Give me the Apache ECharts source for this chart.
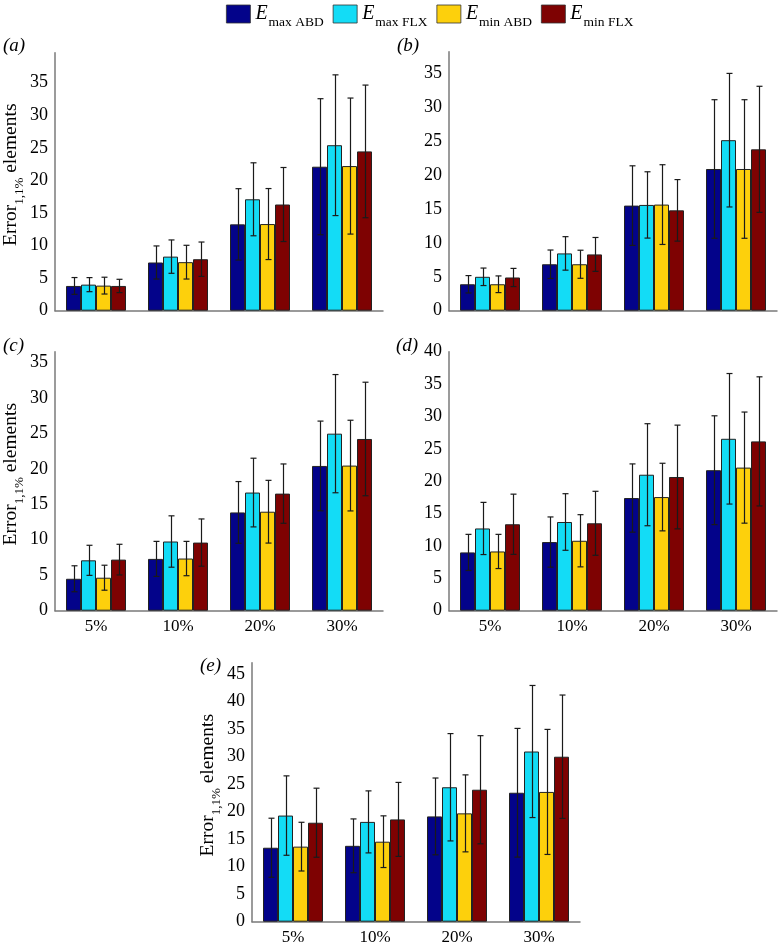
<!DOCTYPE html>
<html><head><meta charset="utf-8">
<script src="https://cdn.jsdelivr.net/npm/echarts@6/dist/echarts.min.js"></script>
<style>html,body{margin:0;padding:0;background:#fff}#c{width:778px;height:946px}</style>
</head><body><div id="c"></div>
<script>
var categories = ['5%', '10%', '20%', '30%'];
var seriesNames = ['Emax ABD', 'Emax FLX', 'Emin ABD', 'Emin FLX'];
var seriesSubs = ['max ABD', 'max FLX', 'min ABD', 'min FLX'];
var panelLetters = ['a', 'b', 'c', 'd', 'e'];
var yTickMax = [35, 35, 35, 40, 45];

// panel (a)
var a_maxABD = [3.8, 7.4, 13.25, 22.1];   var a_maxABD_sd = [1.29, 2.54, 5.48, 10.44];
var a_maxFLX = [4.0, 8.3, 17.1, 25.4];    var a_maxFLX_sd = [1.08, 2.56, 5.6, 10.8];
var a_minABD = [3.85, 7.45, 13.3, 22.2];  var a_minABD_sd = [1.29, 2.59, 5.45, 10.44];
var a_minFLX = [3.8, 7.9, 16.3, 24.45];   var a_minFLX_sd = [1.02, 2.64, 5.68, 10.18];
// panel (b)
var b_maxABD = [3.9, 6.85, 15.5, 20.9];   var b_maxABD_sd = [1.28, 2.1, 5.87, 10.22];
var b_maxFLX = [5.0, 8.45, 15.6, 25.15];  var b_maxFLX_sd = [1.29, 2.47, 4.89, 9.85];
var b_minABD = [3.9, 6.85, 15.65, 20.9];  var b_minABD_sd = [1.23, 2.07, 5.88, 10.22];
var b_minFLX = [4.9, 8.3, 14.8, 23.8];    var b_minFLX_sd = [1.34, 2.5, 4.54, 9.3];
// panel (c)
var c_maxABD = [4.5, 7.3, 13.85, 20.4];   var c_maxABD_sd = [1.83, 2.47, 4.35, 6.32];
var c_maxFLX = [7.1, 9.75, 16.65, 24.95]; var c_maxFLX_sd = [2.12, 3.62, 4.84, 8.33];
var c_minABD = [4.65, 7.35, 13.95, 20.45];var c_minABD_sd = [1.76, 2.42, 4.42, 6.39];
var c_minFLX = [7.2, 9.6, 16.5, 24.2];    var c_minFLX_sd = [2.16, 3.33, 4.18, 8.0];
// panel (d)
var d_maxABD = [9.0, 10.6, 17.4, 21.7];   var d_maxABD_sd = [2.79, 3.88, 5.27, 8.4];
var d_maxFLX = [12.7, 13.7, 21.0, 26.55]; var d_maxFLX_sd = [4.03, 4.37, 7.88, 10.08];
var d_minABD = [9.15, 10.8, 17.55, 22.1]; var d_minABD_sd = [2.64, 4.03, 5.22, 8.58];
var d_minFLX = [13.35, 13.5, 20.65, 26.15];var d_minFLX_sd = [4.65, 4.94, 8.01, 9.97];
// panel (e)
var e_maxABD = [13.45, 13.8, 19.15, 23.45];var e_maxABD_sd = [5.37, 4.89, 6.98, 11.7];
var e_maxFLX = [19.3, 18.15, 24.45, 30.95];var e_maxFLX_sd = [7.22, 5.64, 9.76, 12.01];
var e_minABD = [13.65, 14.55, 19.7, 23.6]; var e_minABD_sd = [4.43, 4.7, 7.0, 11.37];
var e_minFLX = [18.0, 18.6, 24.0, 30.0];   var e_minFLX_sd = [6.28, 6.73, 9.83, 11.22];

var panelValues = [
  [a_maxABD, a_maxFLX, a_minABD, a_minFLX],
  [b_maxABD, b_maxFLX, b_minABD, b_minFLX],
  [c_maxABD, c_maxFLX, c_minABD, c_minFLX],
  [d_maxABD, d_maxFLX, d_minABD, d_minFLX],
  [e_maxABD, e_maxFLX, e_minABD, e_minFLX]
];
var panelSD = [
  [a_maxABD_sd, a_maxFLX_sd, a_minABD_sd, a_minFLX_sd],
  [b_maxABD_sd, b_maxFLX_sd, b_minABD_sd, b_minFLX_sd],
  [c_maxABD_sd, c_maxFLX_sd, c_minABD_sd, c_minFLX_sd],
  [d_maxABD_sd, d_maxFLX_sd, d_minABD_sd, d_minFLX_sd],
  [e_maxABD_sd, e_maxFLX_sd, e_minABD_sd, e_minFLX_sd]
];

// layout / style
var COLORS = ['#03038a', '#13dcf6', '#fdd00c', '#7e0202'];
var FONT = 'Liberation Serif';
var BAR_W = 15;
var grids = [
  {left: 55,  top: 52.7, width: 328, height: 258, max: 39.6, xLabel: false, yName: true,  letter: [3, 36]},
  {left: 449, top: 51.7, width: 328, height: 259, max: 38.2, xLabel: false, yName: false, letter: [397, 36]},
  {left: 55,  top: 351.7, width: 328, height: 259, max: 36.5, xLabel: true, yName: true,  letter: [3, 336]},
  {left: 449, top: 351.7, width: 328, height: 259, max: 40,   xLabel: true, yName: false, letter: [396, 336]},
  {left: 252, top: 662.7, width: 328, height: 259, max: 47.1, xLabel: true, yName: true,  letter: [200, 656]}
];

var option = {
  animation: false,
  backgroundColor: '#fff',
  color: COLORS,
  legend: {
    data: seriesNames,
    left: 226, top: 4, padding: 0,
    itemWidth: 24, itemHeight: 18, itemGap: 9,
    icon: 'rect',
    itemStyle: {borderColor: '#333', borderWidth: 0.8},
    formatter: function (n) { return '{e|E}{s|' + seriesSubs[seriesNames.indexOf(n)] + '}'; },
    textStyle: {
      fontFamily: FONT, color: '#000',
      rich: {
        e: {fontFamily: FONT, fontStyle: 'italic', fontSize: 20, color: '#000', verticalAlign: 'bottom', lineHeight: 20},
        s: {fontFamily: FONT, fontSize: 13.5, color: '#000', verticalAlign: 'bottom', lineHeight: 12, padding: [0, 0, -5, 1]}
      }
    }
  },
  grid: [], xAxis: [], yAxis: [], series: [],
  graphic: []
};

grids.forEach(function (g, gi) {
  option.grid.push({left: g.left, top: g.top, width: g.width, height: g.height, containLabel: false, outerBoundsMode: 'none'});
  option.xAxis.push({
    type: 'category', gridIndex: gi, data: categories,
    axisLine: {lineStyle: {color: '#7a7a7a', width: 1.5}},
    axisTick: {show: false},
    axisLabel: {show: g.xLabel, fontFamily: FONT, fontSize: 17, color: '#000', margin: 7}
  });
  option.yAxis.push({
    type: 'value', gridIndex: gi, min: 0, max: g.max, interval: 5,
    axisLine: {show: true, lineStyle: {color: '#7a7a7a', width: 1.5}},
    axisTick: {show: false},
    splitLine: {show: false},
    axisLabel: {fontFamily: FONT, fontSize: 18, color: '#000', margin: 7,
      formatter: function (v) { return (Math.abs(v % 5) < 1e-9 && v <= yTickMax[gi]) ? String(v) : ''; }},
    name: g.yName ? '{a|Error}{s|1,1%}{a| elements}' : '',
    nameLocation: 'middle', nameGap: 34, nameRotate: 90,
    nameTextStyle: {
      fontFamily: FONT, color: '#000', padding: [0, 0, 0, 14],
      rich: {
        a: {fontFamily: FONT, fontSize: 19.5, color: '#000', verticalAlign: 'bottom', lineHeight: 20},
        s: {fontFamily: FONT, fontSize: 13, color: '#000', verticalAlign: 'bottom', lineHeight: 12, padding: [0, 0, -5, 0]}
      }
    }
  });
  for (var si = 0; si < 4; si++) {
    option.series.push({
      type: 'bar', name: seriesNames[si], xAxisIndex: gi, yAxisIndex: gi,
      data: panelValues[gi][si], barWidth: BAR_W, barGap: '0%',
      itemStyle: {color: COLORS[si], borderColor: '#222', borderWidth: 1},
      z: 2
    });
  }
  for (var sj = 0; sj < 4; sj++) {
    (function (sidx) {
      var vals = panelValues[gi][sidx], sds = panelSD[gi][sidx];
      var d = vals.map(function (v, i) { return [i, v, sds[i]]; });
      option.series.push({
        type: 'custom', name: seriesNames[sidx], xAxisIndex: gi, yAxisIndex: gi,
        data: d, encode: {x: 0, y: 1}, z: 5, silent: true,
        renderItem: function (params, api) {
          var x = api.value(0), m = api.value(1), s = api.value(2);
          var hi = api.coord([x, m + s]), lo = api.coord([x, m - s]);
          var cx = Math.round(hi[0] + (sidx - 1.5) * BAR_W) + 0.5;
          var cap = 3;
          var st = {stroke: '#1a1a1a', lineWidth: 1.2};
          return {type: 'group', children: [
            {type: 'line', shape: {x1: cx, y1: hi[1], x2: cx, y2: lo[1]}, style: st},
            {type: 'line', shape: {x1: cx - cap, y1: hi[1], x2: cx + cap, y2: hi[1]}, style: st},
            {type: 'line', shape: {x1: cx - cap, y1: lo[1], x2: cx + cap, y2: lo[1]}, style: st}
          ]};
        }
      });
    })(sj);
  }
  option.graphic.push({
    type: 'text', left: g.letter[0], top: g.letter[1],
    style: {text: '(' + panelLetters[gi] + ')', font: 'italic 19px "Liberation Serif"', fill: '#000'}
  });
});

var chart = echarts.init(document.getElementById('c'), null, {renderer: 'canvas'});
chart.setOption(option);
</script>
</body></html>
